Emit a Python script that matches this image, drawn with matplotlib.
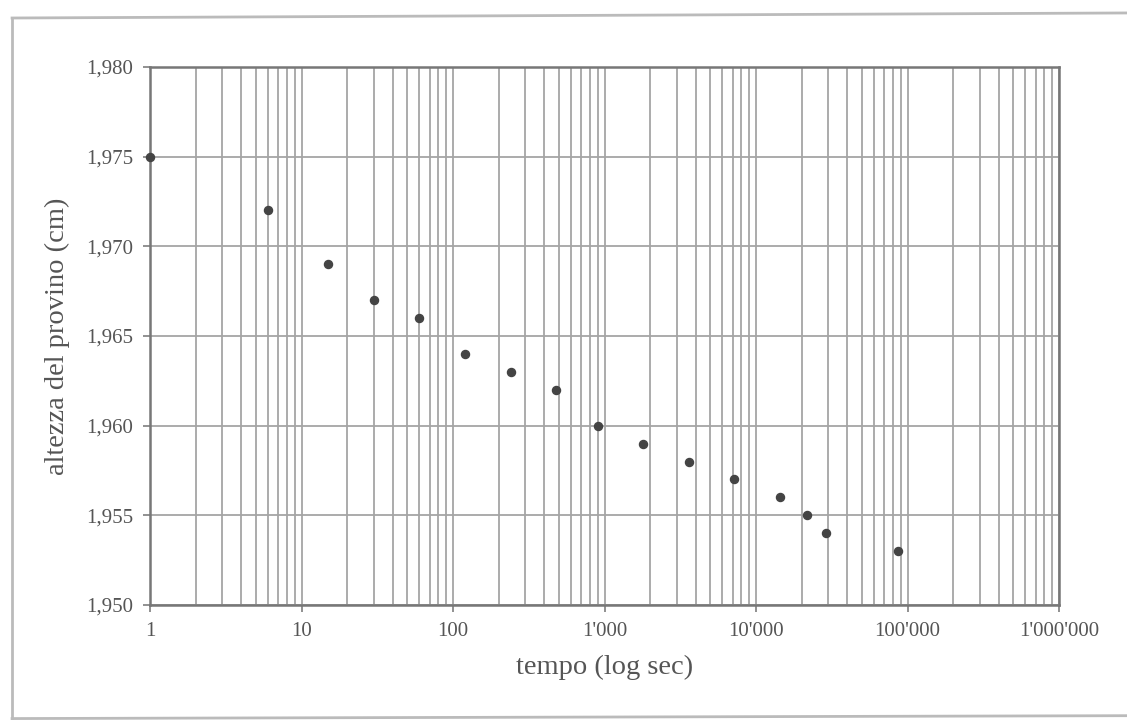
import matplotlib.pyplot as plt
from matplotlib.ticker import FuncFormatter, FixedLocator, LogLocator, MultipleLocator, NullFormatter
from matplotlib.lines import Line2D

# tempo (s) e altezza del provino (cm)
tempo = [1, 6, 15, 30, 60, 120, 240, 480, 900, 1800, 3600, 7200,
         14400, 21600, 28800, 86400]
altezza = [1.975, 1.972, 1.969, 1.967, 1.966, 1.964, 1.963, 1.962, 1.960,
           1.959, 1.958, 1.957, 1.956, 1.955, 1.954, 1.953]
decadi = [1, 10, 100, 1000, 10000, 100000, 1000000]

plt.rcParams['font.family'] = ['Liberation Serif', 'DejaVu Serif']
txt = '#555555'
gridc = '#a5a5a5'

fig = plt.figure(figsize=(11.27, 7.2), dpi=100)
ax = fig.add_axes([0.1331, 0.1597, 0.8066, 0.7472])

ax.plot(tempo, altezza, 'o', color='#444444', markersize=5.8, clip_on=False, zorder=5)

ax.set_xscale('log')
ax.set_xlim(1, 1e6)
ax.set_ylim(1.950, 1.980)

ax.xaxis.set_major_locator(FixedLocator(decadi))
ax.xaxis.set_minor_locator(LogLocator(base=10, subs=range(2, 10), numticks=100))
ax.xaxis.set_minor_formatter(NullFormatter())
ax.xaxis.set_major_formatter(FuncFormatter(lambda v, p: f"{v:,.0f}".replace(',', "'")))
ax.yaxis.set_major_locator(MultipleLocator(0.005))
ax.yaxis.set_major_formatter(FuncFormatter(lambda v, p: f"{v:.3f}".replace('.', ',')))

ax.grid(True, which='major', axis='both', color=gridc, linewidth=1.3)
ax.grid(True, which='minor', axis='x', color=gridc, linewidth=1.3)
ax.set_axisbelow(True)

for s in ax.spines.values():
    s.set_color('#777777')
    s.set_linewidth(1.8)

ax.tick_params(which='major', direction='out', length=5, width=1.3, color='#888888',
               labelsize=15, labelcolor=txt, pad=7)
ax.tick_params(which='minor', length=0)

ax.set_xlabel('tempo (log sec)', fontsize=20.5, color=txt, labelpad=10)
ax.set_ylabel('altezza del provino (cm)', fontsize=20.5, color=txt, labelpad=12)

# cornice esterna
fc = '#bbbbbb'
fig.add_artist(Line2D([0.0107, 0.0107], [0.0, 0.975], color=fc, lw=2, transform=fig.transFigure))
fig.add_artist(Line2D([0.0107, 1.0], [0.975, 0.982], color=fc, lw=2, transform=fig.transFigure))
fig.add_artist(Line2D([0.0107, 1.0], [0.002, 0.006], color=fc, lw=2, transform=fig.transFigure))

fig.savefig('out.png', dpi=100)
